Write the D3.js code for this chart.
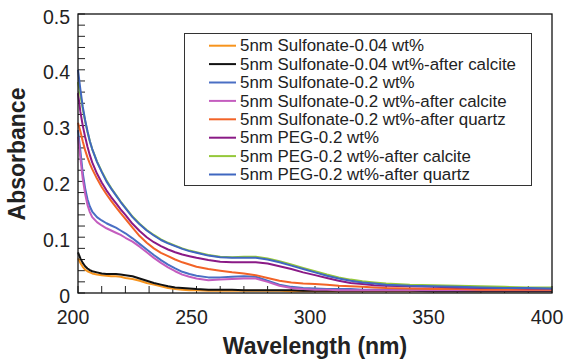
<!DOCTYPE html>
<html><head><meta charset="utf-8">
<script src="https://cdn.jsdelivr.net/npm/d3@7"></script>
<style>body{margin:0;background:#fff}svg{display:block}text{font-family:"Liberation Sans",Arial,sans-serif}</style>
</head><body><svg id="c" width="564" height="361"></svg>
<script>
const wavelengths = [200,201,202,203,204,205,206,208,210,212,214,216,218,220,223,226,229,232,235,238,241,244,247,250,255,260,265,270,275,280,285,290,295,300,305,310,315,320,325,330,340,350,360,370,380,390,400];

const seriesNames = [
 "5nm Sulfonate-0.04 wt%",
 "5nm Sulfonate-0.04 wt%-after calcite",
 "5nm Sulfonate-0.2 wt%",
 "5nm Sulfonate-0.2 wt%-after calcite",
 "5nm Sulfonate-0.2 wt%-after quartz",
 "5nm PEG-0.2 wt%",
 "5nm PEG-0.2 wt%-after calcite",
 "5nm PEG-0.2 wt%-after quartz"
];
const seriesColors = ["#f7941d","#111111","#4a6fc4","#c45dbf","#f26327","#8a1a86","#95c83a","#3f67c0"];

const sulf004 = [.062,.054,.047,.042,.039,.037,.035,.033,.032,.031,.030,.030,.029,.027,.025,.022,.018,.015,.012,.009,.007,.006,.005,.005,.004,.004,.004,.004,.004,.004,.004,.003,.003,.003,.003,.003,.003,.003,.003,.003,.003,.003,.003,.003,.003,.003,.003];
const sulf004Calcite = [.073,.062,.054,.048,.044,.041,.039,.037,.035,.034,.034,.034,.033,.032,.030,.026,.022,.018,.015,.012,.010,.009,.008,.007,.006,.006,.006,.005,.005,.005,.005,.005,.004,.004,.004,.004,.004,.004,.004,.004,.004,.003,.003,.003,.003,.003,.003];
const sulf02 = [.292,.255,.215,.188,.168,.155,.146,.136,.130,.125,.121,.117,.112,.107,.098,.088,.078,.068,.059,.051,.044,.038,.034,.031,.028,.028,.029,.030,.029,.022,.015,.011,.009,.008,.007,.007,.007,.006,.006,.006,.006,.006,.006,.006,.006,.006,.006];
const sulf02Calcite = [.280,.242,.205,.178,.158,.145,.136,.127,.121,.116,.112,.108,.104,.099,.092,.083,.073,.063,.054,.046,.039,.033,.029,.026,.023,.024,.025,.026,.026,.020,.013,.009,.007,.006,.006,.005,.005,.005,.005,.005,.005,.005,.005,.005,.005,.005,.005];
const sulf02Quartz = [.305,.290,.272,.256,.243,.232,.222,.205,.190,.177,.165,.154,.143,.133,.117,.102,.090,.080,.072,.066,.060,.055,.051,.047,.043,.040,.037,.035,.032,.027,.022,.019,.017,.016,.015,.013,.012,.011,.010,.009,.008,.007,.007,.006,.006,.006,.006];
const peg02 = [.358,.325,.300,.280,.262,.247,.234,.214,.198,.184,.172,.161,.150,.140,.124,.111,.100,.091,.084,.078,.073,.069,.066,.063,.059,.056,.055,.055,.055,.053,.048,.043,.037,.032,.027,.022,.018,.016,.014,.013,.012,.011,.010,.009,.009,.008,.008];
const peg02Calcite = [.378,.355,.330,.308,.289,.272,.258,.236,.218,.202,.188,.176,.164,.153,.137,.124,.113,.104,.096,.090,.085,.080,.076,.073,.068,.065,.064,.065,.065,.062,.057,.051,.045,.039,.033,.028,.024,.021,.019,.017,.015,.014,.013,.012,.011,.010,.010];
const peg02Quartz = [.400,.365,.334,.310,.290,.272,.258,.235,.217,.200,.187,.175,.163,.152,.136,.123,.112,.103,.095,.089,.084,.079,.075,.072,.067,.064,.063,.063,.063,.060,.055,.049,.043,.037,.031,.026,.022,.019,.017,.015,.013,.012,.011,.010,.009,.009,.008];

const allSeries = [sulf004, sulf004Calcite, sulf02, sulf02Calcite, sulf02Quartz, peg02, peg02Calcite, peg02Quartz];

const xTickValues = [200,250,300,350,400];
const yTickValues = [0,0.1,0.2,0.3,0.4,0.5];
const yTickLabels = ["0","0.1","0.2","0.3","0.4","0.5"];

const svg = d3.select("#c");
const L=78, R=552, T=14, B=293;
const x = d3.scaleLinear().domain([200,400]).range([L,R]);
const y = d3.scaleLinear().domain([0,0.5]).range([B,T]);

// minor ticks
const xMinor = d3.range(200,401,10);
const yMinor = d3.range(0,0.501,0.02);
const g = svg.append("g");
g.selectAll(".xm").data(xMinor).join("line")
  .attr("x1",d=>x(d)).attr("x2",d=>x(d)).attr("y1",B).attr("y2",B-7)
  .attr("stroke","#222").attr("stroke-width",1);
g.selectAll(".ym").data(yMinor).join("line")
  .attr("x1",L).attr("x2",L+7).attr("y1",d=>y(d)).attr("y2",d=>y(d))
  .attr("stroke","#222").attr("stroke-width",1);

// lines
const line = d3.line().x((d,i)=>x(wavelengths[i])).y(d=>y(d));
allSeries.forEach((s,k)=>{
  svg.append("path").datum(s).attr("d",line).attr("fill","none")
    .attr("stroke",seriesColors[k]).attr("stroke-width",2).attr("stroke-linejoin","round");
});

// frame
svg.append("rect").attr("x",L).attr("y",T).attr("width",R-L).attr("height",B-T)
  .attr("fill","none").attr("stroke","#111").attr("stroke-width",1.3);

// tick labels
svg.selectAll(".xl").data(xTickValues).join("text")
  .attr("x",d=>x(d)-5).attr("y",324).attr("text-anchor","middle")
  .attr("font-size",19.5).attr("fill","#222").text(d=>d);
svg.selectAll(".yl").data(yTickValues).join("text")
  .attr("x",70).attr("y",d=>y(d)+9.5).attr("text-anchor","end")
  .attr("font-size",19.5).attr("fill","#222").text((d,i)=>yTickLabels[i]);

// titles
svg.append("text").attr("x",315).attr("y",354).attr("text-anchor","middle")
  .attr("font-size",23).attr("font-weight","bold").attr("fill","#222").text("Wavelength (nm)");
svg.append("text").attr("transform","translate(25,154) rotate(-90)").attr("text-anchor","middle")
  .attr("font-size",23).attr("font-weight","bold").attr("fill","#222").text("Absorbance");

// legend
const lg = svg.append("g");
lg.append("rect").attr("x",184.5).attr("y",33.5).attr("width",347).attr("height",152)
  .attr("fill","#fff").attr("stroke","#333").attr("stroke-width",1);
seriesNames.forEach((n,i)=>{
  const cy = 45.7 + i*18.4;
  lg.append("line").attr("x1",209).attr("x2",236).attr("y1",cy).attr("y2",cy)
    .attr("stroke",seriesColors[i]).attr("stroke-width",2);
  lg.append("text").attr("x",240).attr("y",cy+5.7).attr("font-size",16.9).attr("fill","#222").text(n);
});
</script></body></html>
